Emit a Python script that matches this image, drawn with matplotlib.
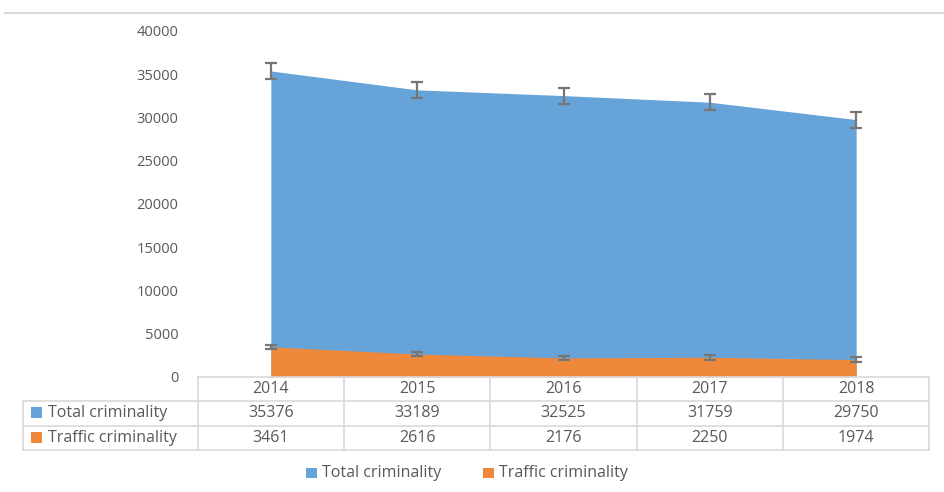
import numpy as np
import matplotlib.pyplot as plt
from matplotlib.lines import Line2D
from matplotlib.patches import Rectangle

years = ["2014", "2015", "2016", "2017", "2018"]
total = [35376, 33189, 32525, 31759, 29750]
traffic = [3461, 2616, 2176, 2250, 1974]
total_err = 920
traffic_err = 260
series_names = ["Total criminality", "Traffic criminality"]

blue = "#66a3d9"
orange = "#ef883b"
text_col = "#595959"
grid_col = "#d9d9d9"
err_col = "#767676"

plt.rcParams['font.family'] = ['Open Sans', 'DejaVu Sans']

W, H = 944, 492
fig = plt.figure(figsize=(W / 100, H / 100), dpi=100)

# pixel helpers (origin top-left)
def fx(px):
    return px / W

def fy(py):
    return 1 - py / H

x_left, x_right = 197.7, 929.3
y_top, y_zero = 31, 376.7
ax = fig.add_axes([fx(x_left), fy(y_zero), fx(x_right) - fx(x_left), fy(y_top) - fy(y_zero)])

x = np.arange(len(years))
ax.fill_between(x, 0, total, color=blue, lw=0)
ax.fill_between(x, 0, traffic, color=orange, lw=0)
ax.errorbar(x, total, yerr=total_err, fmt='none', ecolor=err_col, elinewidth=1.6, capsize=4, capthick=1.6)
ax.errorbar(x, traffic, yerr=traffic_err, fmt='none', ecolor=err_col, elinewidth=1.6, capsize=4, capthick=1.6)

ax.set_xlim(-0.5, len(years) - 0.5)
ax.set_ylim(0, 40000)
ax.set_yticks(range(0, 40001, 5000))
ax.set_xticks([])
ax.tick_params(axis='y', length=0, pad=14, labelsize=10.5, labelcolor=text_col)
for s in ax.spines.values():
    s.set_visible(False)
ax.patch.set_visible(False)

# top border line
fig.add_artist(Line2D([fx(5), fx(944)], [fy(12.5), fy(12.5)], color=grid_col, lw=1.5))

# data table
col_edges = np.linspace(x_left, x_right, len(years) + 1)
row_edges = [376.7, 400.7, 425.7, 450]
label_left = 23.3
lw = 1.2
fig.add_artist(Line2D([fx(x_left), fx(x_right)], [fy(row_edges[0])] * 2, color=grid_col, lw=lw))
for ry in row_edges[1:]:
    fig.add_artist(Line2D([fx(label_left), fx(x_right)], [fy(ry)] * 2, color=grid_col, lw=lw))
for cx in col_edges:
    fig.add_artist(Line2D([fx(cx)] * 2, [fy(row_edges[0]), fy(row_edges[-1])], color=grid_col, lw=lw))
fig.add_artist(Line2D([fx(label_left)] * 2, [fy(row_edges[1]), fy(row_edges[-1])], color=grid_col, lw=lw))

fs = 11.5
centers = (col_edges[:-1] + col_edges[1:]) / 2
row_mid = [(row_edges[i] + row_edges[i + 1]) / 2 for i in range(3)]
for i, yr in enumerate(years):
    fig.text(fx(centers[i]), fy(row_mid[0]), yr, ha='center', va='center', fontsize=fs, color=text_col)
    fig.text(fx(centers[i]), fy(row_mid[1]), str(total[i]), ha='center', va='center', fontsize=fs, color=text_col)
    fig.text(fx(centers[i]), fy(row_mid[2]), str(traffic[i]), ha='center', va='center', fontsize=fs, color=text_col)

for name, c, ym in zip(series_names, [blue, orange], row_mid[1:]):
    fig.add_artist(Rectangle((fx(31), fy(ym + 5)), fx(11), fy(0) - fy(11), color=c, lw=0))
    fig.text(fx(47.7), fy(ym), name, ha='left', va='center', fontsize=fs, color=text_col)

# legend
for name, c, sx in zip(series_names, [blue, orange], [306, 483]):
    fig.add_artist(Rectangle((fx(sx), fy(473 + 5)), fx(10.5), fy(0) - fy(10.5), color=c, lw=0))
    fig.text(fx(sx + 16), fy(473), name, ha='left', va='center', fontsize=fs, color=text_col)

fig.savefig("out.png", dpi=100)
